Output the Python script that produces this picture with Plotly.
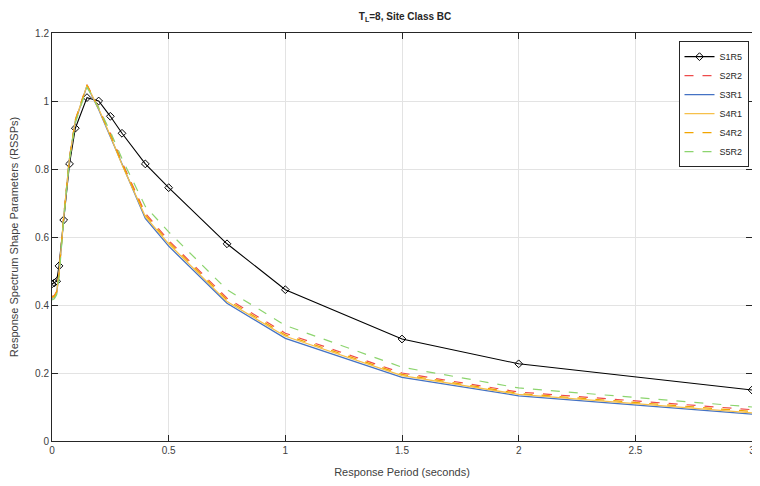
import plotly.graph_objects as go

periods = [0, 0.01, 0.02, 0.03, 0.05, 0.075, 0.1, 0.15, 0.2, 0.25, 0.3, 0.4, 0.5, 0.75, 1.0, 1.5, 2.0, 3.0]

s1r5 = [0.462, 0.465, 0.47, 0.515, 0.65, 0.815, 0.92, 1.01, 1.0, 0.955, 0.905, 0.815, 0.745, 0.58, 0.445, 0.30, 0.227, 0.15]
s2r2 = [0.425, 0.428, 0.44, 0.495, 0.66, 0.835, 0.945, 1.048, 0.98, 0.905, 0.82, 0.67, 0.59, 0.42, 0.317, 0.200, 0.144, 0.092]
s3r1 = [0.42, 0.422, 0.435, 0.49, 0.655, 0.83, 0.94, 1.045, 0.975, 0.895, 0.81, 0.655, 0.573, 0.405, 0.302, 0.187, 0.133, 0.079]
s4r1 = [0.422, 0.424, 0.437, 0.492, 0.657, 0.832, 0.942, 1.046, 0.977, 0.898, 0.813, 0.66, 0.58, 0.41, 0.308, 0.192, 0.137, 0.083]
s4r2 = [0.423, 0.426, 0.438, 0.493, 0.658, 0.833, 0.943, 1.047, 0.978, 0.9, 0.816, 0.665, 0.585, 0.415, 0.312, 0.196, 0.140, 0.087]
s5r2 = [0.415, 0.418, 0.43, 0.48, 0.65, 0.83, 0.935, 1.04, 0.98, 0.91, 0.83, 0.69, 0.615, 0.445, 0.34, 0.217, 0.156, 0.10]

x_ticks = [0, 0.5, 1, 1.5, 2, 2.5, 3]
x_tick_labels = ["0", "0.5", "1", "1.5", "2", "2.5", "3"]
y_ticks = [0, 0.2, 0.4, 0.6, 0.8, 1.0, 1.2]
y_tick_labels = ["0", "0.2", "0.4", "0.6", "0.8", "1", "1.2"]

fig = go.Figure()
fig.add_trace(go.Scatter(x=periods, y=s1r5, name="S1R5", mode="lines+markers",
                         line=dict(color="black", width=1.1),
                         marker=dict(symbol="diamond-open", size=6, color="black", line=dict(width=1))))
fig.add_trace(go.Scatter(x=periods, y=s2r2, name="S2R2", mode="lines",
                         line=dict(color="#EE4B4B", width=1.2, dash="dash")))
fig.add_trace(go.Scatter(x=periods, y=s3r1, name="S3R1", mode="lines",
                         line=dict(color="#4472C4", width=1.3)))
fig.add_trace(go.Scatter(x=periods, y=s4r1, name="S4R1", mode="lines",
                         line=dict(color="#F6C04A", width=1.3)))
fig.add_trace(go.Scatter(x=periods, y=s4r2, name="S4R2", mode="lines",
                         line=dict(color="#F2A500", width=1.2, dash="dash")))
fig.add_trace(go.Scatter(x=periods, y=s5r2, name="S5R2", mode="lines",
                         line=dict(color="#8CD46E", width=1.2, dash="dash")))

axis_common = dict(
    showgrid=True, gridcolor="#E3E3E3", gridwidth=1,
    showline=True, linecolor="#262626", linewidth=1, mirror="ticks",
    ticks="inside", ticklen=6, tickcolor="#262626",
    tickfont=dict(family="Liberation Sans, Arial", size=10, color="#404040"),
    zeroline=False, automargin=False, ticklabeloverflow="allow",
)

fig.update_layout(
    width=752, height=470,
    margin=dict(l=44, r=8, t=25, b=37),
    paper_bgcolor="white", plot_bgcolor="white",
    font=dict(family="Liberation Sans, Arial", size=10, color="#262626"),
    title=dict(text="<b>T<sub>L</sub>=8, Site Class BC</b>", x=0.528, xanchor="center",
               y=0.989, yanchor="top", font=dict(size=10, color="#262626")),
    xaxis=dict(range=[0, 3], tickvals=x_ticks, ticktext=x_tick_labels,
               title=dict(text="Response Period (seconds)", font=dict(size=11, color="#404040"), standoff=13),
               **axis_common),
    yaxis=dict(range=[0, 1.2], tickvals=y_ticks, ticktext=y_tick_labels,
               title=dict(text="Response Spectrum Shape Parameters (RSSPs)", font=dict(size=11, color="#404040"), standoff=19),
               **axis_common),
    legend=dict(x=0.895, y=0.98, xanchor="left", yanchor="top",
                bgcolor="white", bordercolor="#262626", borderwidth=1,
                font=dict(size=9, color="#262626"), tracegroupgap=0, itemwidth=30),
    showlegend=True,
)

fig.write_html("out.html")
